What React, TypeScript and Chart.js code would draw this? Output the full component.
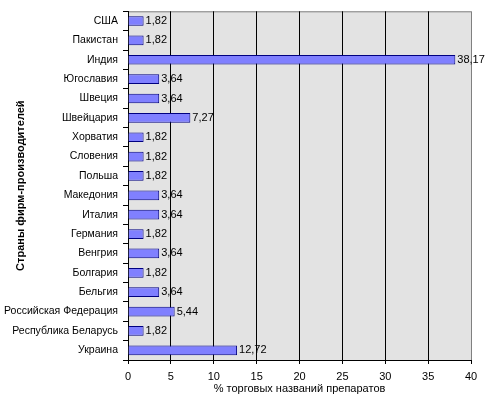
import React, { useEffect, useRef } from "react";
import { Chart, registerables } from "chart.js";

Chart.register(...registerables);

const countries = [
  "США",
  "Пакистан",
  "Индия",
  "Югославия",
  "Швеция",
  "Швейцария",
  "Хорватия",
  "Словения",
  "Польша",
  "Македония",
  "Италия",
  "Германия",
  "Венгрия",
  "Болгария",
  "Бельгия",
  "Российская Федерация",
  "Республика Беларусь",
  "Украина",
];
const shares = [1.82, 1.82, 38.17, 3.64, 3.64, 7.27, 1.82, 1.82, 1.82, 3.64, 3.64, 1.82, 3.64, 1.82, 3.64, 5.44, 1.82, 12.72];
const xTitle = "% торговых названий препаратов";
const yTitle = "Страны фирм-производителей";

const FONT = "'Liberation Sans', Arial, sans-serif";

const bgPlugin = {
  id: "bgPlugin",
  beforeDraw(chart: any) {
    const { ctx, chartArea } = chart;
    ctx.save();
    ctx.fillStyle = "#e3e3e3";
    ctx.fillRect(chartArea.left, chartArea.top, chartArea.right - chartArea.left, chartArea.bottom - chartArea.top);
    ctx.strokeStyle = "#808080";
    ctx.lineWidth = 1;
    ctx.strokeRect(chartArea.left + 0.5, chartArea.top + 0.5, chartArea.right - chartArea.left, chartArea.bottom - chartArea.top);
    ctx.restore();
  },
};

const labelPlugin = {
  id: "labelPlugin",
  afterDatasetsDraw(chart: any) {
    const { ctx } = chart;
    const meta = chart.getDatasetMeta(0);
    ctx.save();
    ctx.font = `11px ${FONT}`;
    ctx.fillStyle = "#000";
    ctx.textAlign = "left";
    ctx.textBaseline = "middle";
    meta.data.forEach((bar: any, i: number) => {
      const txt = shares[i].toFixed(2).replace(".", ",");
      ctx.fillText(txt, bar.x + 2, bar.y);
    });
    ctx.restore();
  },
};

export default function App() {
  const ref = useRef<HTMLCanvasElement>(null);
  useEffect(() => {
    document.body.style.margin = "0";
    const chart = new Chart(ref.current!, {
      type: "bar",
      data: {
        labels: countries,
        datasets: [
          {
            data: shares,
            backgroundColor: "#8080ff",
            borderColor: "#000080",
            borderWidth: 1,
            barPercentage: 0.5,
            categoryPercentage: 1,
          },
        ],
      },
      options: {
        indexAxis: "y",
        animation: false,
        responsive: false,
        maintainAspectRatio: false,
        layout: { padding: { top: 5, right: 15, left: 0, bottom: 0 } },
        plugins: { legend: { display: false }, tooltip: { enabled: false } },
        scales: {
          x: {
            min: 0,
            max: 40,
            ticks: { stepSize: 5, color: "#000", font: { family: FONT, size: 11 }, padding: 6 },
            grid: {
              color: (c: any) => (c.tick && c.tick.value > 0 && c.tick.value < 40 ? "#000" : "rgba(0,0,0,0)"),
              tickColor: "#000",
              tickLength: 4,
              lineWidth: 1,
            },
            border: { color: "#000" },
            title: { display: true, text: xTitle, color: "#000", font: { family: FONT, size: 11 }, padding: { top: 0, bottom: 0 } },
            afterFit: (s: any) => {
              s.height = 36;
            },
          },
          y: {
            ticks: { color: "#000", font: { family: FONT, size: 10.5 }, padding: 5 },
            grid: { offset: true, drawOnChartArea: false, tickColor: "#000", tickLength: 5, color: "#000" },
            border: { color: "#000" },
            title: { display: true, text: yTitle, color: "#000", font: { family: FONT, size: 11, weight: "bold" }, padding: { top: 14, bottom: 0 } },
            afterFit: (s: any) => {
              s.width = 128;
            },
          },
        },
      },
      plugins: [bgPlugin, labelPlugin],
    });
    return () => chart.destroy();
  }, []);
  return <canvas ref={ref} width={486} height={396} style={{ display: "block" }} />;
}
